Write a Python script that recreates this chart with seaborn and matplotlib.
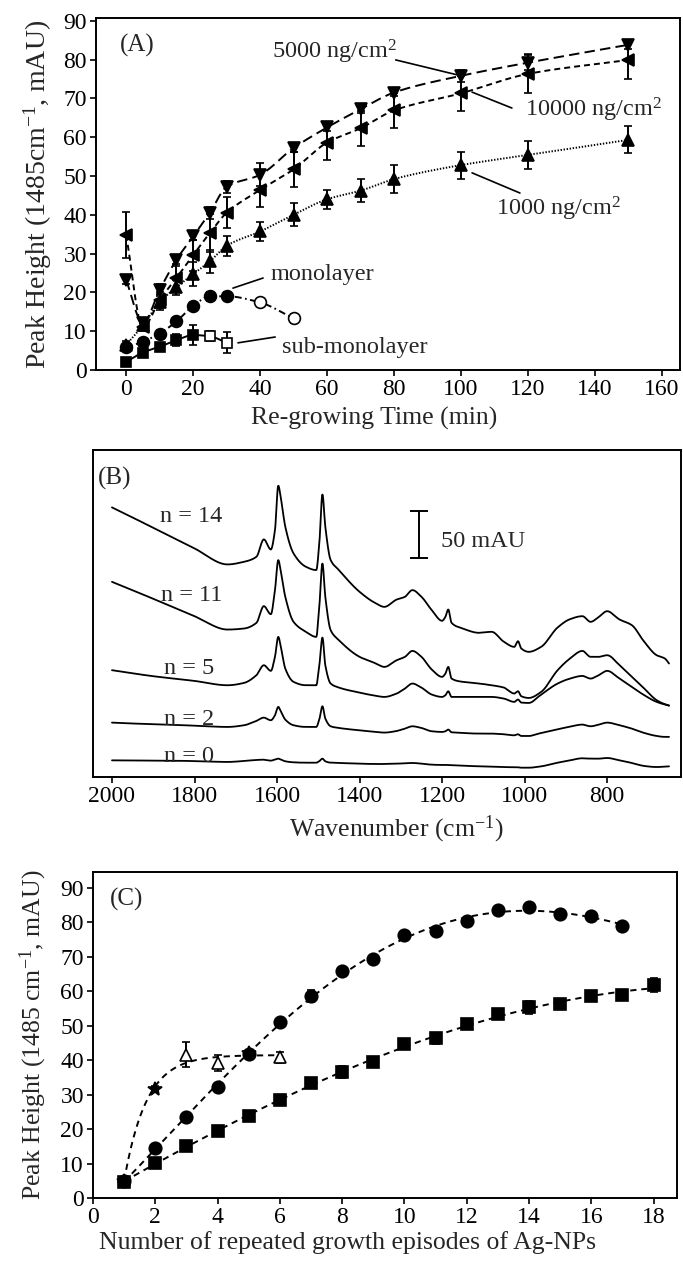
import numpy as np
import pandas as pd
import matplotlib
matplotlib.use("Agg")
import matplotlib.pyplot as plt
import seaborn as sns

sns.set_style("ticks")
plt.rcParams['font.family'] = ['Liberation Serif', 'DejaVu Serif']
plt.rcParams['mathtext.fontset'] = 'custom'
plt.rcParams['mathtext.rm'] = 'Liberation Serif'
plt.rcParams['mathtext.it'] = 'Liberation Serif:italic'
plt.rcParams['mathtext.bf'] = 'Liberation Serif:bold'
plt.rcParams['lines.scale_dashes'] = False

# ---------------- Panel A data ----------------
time_a = [0, 5, 10, 15, 20, 25, 30, 40, 50, 60, 70, 80, 100, 120, 150]
a_10000 = [34.8, 11.0, 18.0, 23.7, 29.6, 35.3, 40.5, 46.4, 51.7, 58.6, 62.3, 66.9, 71.3, 76.3, 79.9]
a_10000_err = [6, 1, 2, 3, 4, 5, 4, 4.5, 4.5, 4.5, 4.5, 4.5, 4.5, 5, 5]
a_5000 = [23.2, 12.1, 20.6, 28.4, 34.4, 40.5, 47.2, 50.3, 57.2, 62.5, 67.2, 71.5, 75.8, 79.2, 83.8]
a_5000_err = [1, 1, 1.5, 1, 1, 1.5, 1.5, 3, 1, 1, 1, 1, 1.5, 2, 1]
a_1000 = [6.5, 11.5, 17.5, 21.3, 24.7, 28.0, 32.0, 35.7, 40.0, 44.0, 46.2, 49.2, 52.8, 55.4, 59.3]
a_1000_err = [1, 1, 2, 2, 3, 3, 2.5, 2.5, 3, 2.5, 3, 3.5, 3.5, 3.5, 3.5]
time_mono = [0, 5, 10, 15, 20, 25, 30, 40, 50]
a_mono = [5.8, 7.3, 9.4, 12.5, 16.5, 19.0, 19.0, 17.4, 13.3]
a_mono_err = [0.8, 0.8, 0.8, 0.8, 0.8, 1.2, 1.0, 1.0, 1.2]
mono_open = [False, False, False, False, False, False, False, True, True]
time_sub = [0, 5, 10, 15, 20, 25, 30]
a_sub = [2.1, 4.5, 6.0, 7.7, 9.0, 8.7, 7.0]
a_sub_err = [0.5, 0.5, 0.5, 1.5, 2.5, 1.3, 2.7]
sub_open = [False, False, False, False, False, True, True]

# ---------------- Panel B data (spectra, mAU offset traces) ----------------
wn = [2000, 1900, 1800, 1720, 1680, 1650, 1632, 1615, 1605, 1597, 1590, 1580, 1560, 1530,
      1505, 1497, 1490, 1483, 1470, 1450, 1400, 1360, 1340, 1310, 1290, 1272, 1250, 1225,
      1200, 1192, 1185, 1177, 1150, 1110, 1080, 1050, 1025, 1016, 1008, 990, 960, 920,
      890, 860, 840, 820, 800, 770, 740, 710, 680, 660, 650]
spec_n14 = [286.5, 264.9, 242.9, 225.9, 228.7, 234.0, 252.5, 241.8, 262.4, 309.6, 294.3, 266.0, 237.6, 223.4,
            219.9, 251.8, 300.3, 266.0, 230.5, 219.9, 196.8, 184.4, 180.8, 188.6, 191.5, 198.6, 191.5, 177.3,
            166.0, 170.2, 178.0, 163.8, 157.8, 153.2, 154.3, 143.6, 138.3, 144.3, 136.5, 133.0, 138.3, 158.9,
            167.7, 170.9, 164.9, 170.2, 176.2, 167.4, 161.3, 143.6, 129.4, 125.9, 120.6]
spec_n11 = [207.4, 189.4, 170.9, 156.7, 157.8, 163.8, 181.6, 173.0, 198.6, 230.5, 216.3, 191.5, 164.9, 154.3,
            148.9, 184.4, 226.9, 191.5, 156.0, 145.4, 127.7, 120.6, 117.0, 124.1, 127.7, 134.0, 127.7, 114.2,
            106.4, 109.9, 117.0, 104.6, 101.1, 99.3, 97.5, 95.0, 88.7, 91.1, 85.8, 84.0, 90.4, 113.5,
            125.9, 134.0, 127.7, 127.7, 129.4, 118.8, 106.4, 94.0, 81.6, 77.3, 75.9]
spec_n5 = [113.5, 107.1, 102.1, 97.5, 100.0, 108.2, 118.8, 112.8, 127.7, 148.9, 136.5, 115.2, 101.1, 97.5,
           97.5, 120.6, 148.2, 118.8, 99.3, 95.0, 89.7, 86.2, 85.1, 88.7, 94.0, 99.3, 95.0, 87.6,
           85.1, 86.9, 91.1, 85.1, 85.1, 85.1, 85.1, 83.3, 79.8, 82.3, 79.1, 78.7, 87.6, 99.3,
           104.6, 107.4, 104.6, 108.2, 112.8, 104.6, 95.7, 86.9, 79.8, 77.0, 75.9]
spec_n2 = [57.8, 56.0, 54.6, 53.2, 55.0, 59.6, 63.1, 60.3, 65.6, 74.5, 69.1, 61.0, 55.0, 53.2,
           53.2, 62.1, 75.2, 62.1, 53.9, 52.1, 49.6, 47.9, 47.2, 48.9, 51.4, 53.9, 52.1, 48.6,
           47.9, 48.6, 50.4, 47.5, 46.8, 46.1, 46.1, 45.4, 44.3, 45.4, 43.6, 43.6, 46.8, 50.7,
           53.5, 55.7, 53.9, 55.7, 57.8, 55.0, 51.4, 46.8, 43.6, 42.6, 42.6]
spec_n0 = [17.7, 17.4, 17.0, 16.0, 17.0, 18.1, 18.4, 17.4, 18.4, 19.5, 18.4, 16.7, 15.6, 15.2,
           15.2, 17.0, 19.5, 16.7, 15.2, 14.9, 14.2, 13.8, 13.8, 14.2, 14.5, 14.9, 14.2, 13.1,
           12.8, 12.8, 12.9, 12.6, 12.1, 11.3, 11.0, 10.6, 10.3, 10.3, 9.9, 9.9, 11.3, 15.2,
           17.7, 19.9, 19.5, 19.5, 20.2, 17.7, 14.9, 11.7, 10.6, 11.0, 11.3]
spec_labels = ["n = 14", "n = 11", "n = 5", "n = 2", "n = 0"]

# ---------------- Panel C data ----------------
ep_circ = list(range(1, 18))
c_circ = [4.8, 14.6, 23.5, 32.1, 41.9, 51.1, 58.7, 66.0, 69.4, 76.3, 77.4, 80.5, 83.5, 84.4, 82.5, 81.8, 79.0]
c_circ_err = [0.5, 0.6, 0.6, 0.6, 0.6, 0.6, 1.8, 0.8, 1.0, 0.6, 0.6, 0.8, 0.6, 0.8, 0.8, 0.6, 0.6]
ep_sq = list(range(1, 19))
c_sq = [4.7, 10.1, 15.1, 19.3, 23.8, 28.5, 33.3, 36.5, 39.4, 44.6, 46.3, 50.5, 53.3, 55.3, 56.4, 58.5, 58.9, 61.7]
c_sq_err = [0.5, 0.5, 0.5, 0.6, 0.6, 1.0, 1.5, 1.8, 1.3, 1.3, 1.5, 1.2, 1.3, 2.0, 1.3, 1.3, 1.0, 2.0]
ep_tri = [1, 2, 3, 4, 5, 6]
c_tri = [5.0, 31.6, 41.6, 39.2, 42.0, 40.9]
c_tri_err = [0.5, 0.8, 3.6, 2.4, 0.5, 1.6]
tri_open = [False, False, True, True, False, True]


def pchip(x, y, n=400):
    x = np.asarray(x, float)
    y = np.asarray(y, float)
    h = np.diff(x)
    dl = np.diff(y) / h
    d = np.zeros_like(y)
    for k in range(1, len(x) - 1):
        if dl[k - 1] * dl[k] <= 0:
            d[k] = 0.0
        else:
            w1 = 2 * h[k] + h[k - 1]
            w2 = h[k] + 2 * h[k - 1]
            d[k] = (w1 + w2) / (w1 / dl[k - 1] + w2 / dl[k])
    d[0] = dl[0]
    d[-1] = dl[-1]
    xs = np.linspace(x.min(), x.max(), n)
    idx = np.clip(np.searchsorted(x, xs) - 1, 0, len(x) - 2)
    t = (xs - x[idx]) / h[idx]
    h00 = 2 * t**3 - 3 * t**2 + 1
    h10 = t**3 - 2 * t**2 + t
    h01 = -2 * t**3 + 3 * t**2
    h11 = t**3 - t**2
    ys = h00 * y[idx] + h10 * h[idx] * d[idx] + h01 * y[idx + 1] + h11 * h[idx] * d[idx + 1]
    return xs, ys


def draw_points(ax, x, y, e, marker, open_mask, ms, cap=3.2):
    x = np.asarray(x, float); y = np.asarray(y, float); e = np.asarray(e, float)
    om = np.asarray(open_mask, bool)
    for is_open in (False, True):
        m = om == is_open
        if not m.any():
            continue
        ax.errorbar(x[m], y[m], yerr=e[m], fmt=marker, ms=ms,
                    mfc='white' if is_open else 'black', mec='black', mew=1.2,
                    ecolor='black', elinewidth=1.4, capsize=cap, capthick=1.4, zorder=4)


def fit_line(ax, xs, ys, ls, lw=1.4):
    df = pd.DataFrame({'x': xs, 'y': ys})
    sns.lineplot(data=df, x='x', y='y', ax=ax, color='black', linewidth=lw,
                 linestyle=ls, sort=False, estimator=None, zorder=2)


TICK = 17
LAB = 18.5
ANN = 17.5

fig = plt.figure(figsize=(6.83, 12.62), dpi=100)

# ================= Panel A =================
axA = fig.add_axes([96 / 683, 1 - 370 / 1262, 584 / 683, 352 / 1262])
xs, ys = pchip(time_a, a_5000); fit_line(axA, xs, ys, (0, (7.5, 3.8)))
xs, ys = pchip(time_a, a_10000); fit_line(axA, xs, ys, (0, (4.3, 2.9)))
xs, ys = pchip(time_a, a_1000); fit_line(axA, xs, ys, (0, (1.0, 1.2)))
xs, ys = pchip(time_mono, a_mono); fit_line(axA, xs, ys, (0, (5, 2.5, 1.2, 2.5)))
xs, ys = pchip(time_sub, a_sub); fit_line(axA, xs, ys, '-')

draw_points(axA, time_a, a_5000, a_5000_err, 'v', [False] * 15, 8.5)
draw_points(axA, time_a, a_10000, a_10000_err, '<', [False] * 15, 8.5)
draw_points(axA, time_a, a_1000, a_1000_err, '^', [False] * 15, 8.5)
draw_points(axA, time_mono, a_mono, a_mono_err, 'o', mono_open, 8.5)
draw_points(axA, time_sub, a_sub, a_sub_err, 's', sub_open, 7.5)

axA.set_xlim(-9, 165.4)
axA.set_ylim(0, 90.7)
axA.set_xticks(range(0, 161, 20))
axA.set_yticks(range(0, 91, 10))
axA.set_xlabel("Re-growing Time (min)", fontsize=LAB, labelpad=3)
axA.set_ylabel("Peak Height (1485cm$^{-1}$, mAU)", fontsize=20, labelpad=7)
axA.xaxis.set_label_coords(0.476, -0.105)

ann_kw = dict(fontsize=ANN, va='center', ha='left')
axA.text(-2, 83.6, "(A)", fontsize=18, va='center', ha='left')
axA.text(43.5, 81.9, "5000 ng/cm$^2$", **ann_kw)
axA.plot([80.5, 99.1], [79.9, 76.0], color='black', lw=1.2)
axA.text(119, 67.0, "10000 ng/cm$^2$", **ann_kw)
axA.plot([103.3, 115.2], [71.6, 67.5], color='black', lw=1.2)
axA.text(110.5, 41.5, "1000 ng/cm$^2$", **ann_kw)
axA.plot([103.3, 117.6], [50.8, 45.6], color='black', lw=1.2)
axA.text(43, 24.5, "monolayer", **ann_kw)
axA.plot([31.9, 40.9], [21.1, 23.7], color='black', lw=1.2)
axA.text(46.6, 5.9, "sub-monolayer", **ann_kw)
axA.plot([33.4, 44.5], [7.0, 8.5], color='black', lw=1.2)

# ================= Panel B =================
axB = fig.add_axes([93 / 683, 1 - 777 / 1262, 588 / 683, 327 / 1262])
spectra = [spec_n14, spec_n11, spec_n5, spec_n2, spec_n0]
wn_rev = np.asarray(wn, float)[::-1]
for sp in spectra:
    xs, ys = pchip(wn_rev, np.asarray(sp, float)[::-1], n=1500)
    fit_line(axB, xs, ys, '-', lw=1.3)
label_pos = [(1808, 276.6), (1808, 193.3), (1814, 115.2), (1814, 61.0), (1814, 22.0)]
for lab, (lx, ly) in zip(spec_labels, label_pos):
    axB.text(lx, ly, lab, fontsize=ANN, ha='center', va='center')
axB.errorbar([1255], [257.5], yerr=[25.2], fmt='none', ecolor='black', elinewidth=1.4,
             capsize=6.5, capthick=1.4)
axB.text(1203, 250, "50 mAU", fontsize=ANN, ha='left', va='center')
axB.text(2035, 317, "(B)", fontsize=18, ha='left', va='center')
axB.set_xlim(2046, 621)
axB.set_ylim(0, 347.5)
axB.set_xticks(range(2000, 799, -200))
axB.set_yticks([])
axB.set_ylabel("")
axB.set_xlabel("Wavenumber (cm$^{-1}$)", fontsize=LAB, labelpad=3)
axB.xaxis.set_label_coords(0.515, -0.112)

# ================= Panel C =================
axC = fig.add_axes([93 / 683, 1 - 1198 / 1262, 584 / 683, 326 / 1262])
cd = (0, (4.5, 3.5))
pc = np.polyfit(ep_circ, c_circ, 4)
xc = np.linspace(1, 17, 300)
fit_line(axC, xc, np.polyval(pc, xc), cd)
ps = np.polyfit(ep_sq, c_sq, 3)
xq = np.linspace(1, 18, 300)
fit_line(axC, xq, np.polyval(ps, xq), cd)
xt = np.asarray(ep_tri, float); yt = np.asarray(c_tri, float)
best = None
for b in np.linspace(0.2, 3.0, 281):
    g = 1 - np.exp(-b * (xt - xt[0]))
    a = np.sum(g * (yt - yt[0])) / np.sum(g * g)
    r = np.sum((yt[0] + a * g - yt) ** 2)
    if best is None or r < best[0]:
        best = (r, a, b)
_, fa, fb = best
xtt = np.linspace(1, 6, 200)
fit_line(axC, xtt, yt[0] + fa * (1 - np.exp(-fb * (xtt - 1))), cd)

draw_points(axC, ep_circ, c_circ, c_circ_err, 'o', [False] * 17, 9, cap=3)
draw_points(axC, ep_sq, c_sq, c_sq_err, 's', [False] * 18, 8, cap=3)
tm = np.asarray(tri_open)
xt_a = np.asarray(ep_tri); yt_a = np.asarray(c_tri); et_a = np.asarray(c_tri_err)
draw_points(axC, xt_a[~tm], yt_a[~tm], et_a[~tm], '*', [False] * int((~tm).sum()), 10, cap=3)
draw_points(axC, xt_a[tm], yt_a[tm], et_a[tm], '^', [True] * int(tm.sum()), 8.5, cap=3)

axC.set_xlim(0, 18.75)
axC.set_ylim(0, 94.6)
axC.set_xticks(range(0, 19, 2))
axC.set_yticks(range(0, 91, 10))
axC.text(0.55, 86.5, "(C)", fontsize=18, ha='left', va='center')
axC.set_xlabel("Number of repeated growth episodes of Ag-NPs", fontsize=LAB, labelpad=3)
axC.set_ylabel("Peak Height (1485 cm$^{-1}$, mAU)", fontsize=LAB, labelpad=8)
axC.xaxis.set_label_coords(0.435, -0.1)

for ax in (axA, axB, axC):
    for s in ax.spines.values():
        s.set_visible(True)
        s.set_linewidth(1.4)
        s.set_color('black')
    ax.tick_params(axis='both', direction='out', length=4, width=1.2, labelsize=TICK,
                   colors='black', pad=2.5, top=False, right=False)
    ax.set_facecolor('white')
axB.tick_params(axis='y', left=False, labelleft=False)

fig.savefig("out.png", dpi=100, facecolor='white')
